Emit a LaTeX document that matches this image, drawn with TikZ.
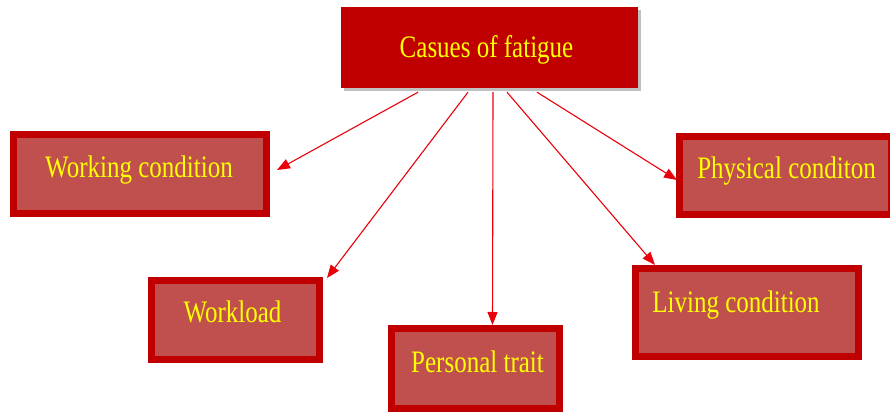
\documentclass[tikz,border=0pt]{standalone}
\usepackage{fontspec}
\setmainfont{Liberation Serif}
\usetikzlibrary{arrows.meta,shadows,calc}
\definecolor{darkred}{HTML}{C00000}
\definecolor{boxfill}{HTML}{C0504D}
\definecolor{arrowred}{HTML}{E8000B}
\definecolor{txtyellow}{HTML}{FFFF00}
\tikzset{
  shade box/.style={drop shadow={shadow xshift=3pt,shadow yshift=-3pt,fill=black!45,opacity=.55}},
  topbox/.style={rectangle,fill=darkred,inner sep=0pt,shade box},
  causebox/.style={rectangle,draw=darkred,line width=7pt,fill=boxfill,inner sep=0pt,shade box},
  lbl/.style={anchor=base,text=txtyellow,inner sep=0pt,font=\fontsize{25}{28}\selectfont},
  conn/.style={draw=arrowred,line width=1.1pt,-{Triangle[length=13pt,width=10pt]}}
}
\newcommand{\stretchtxt}[1]{\scalebox{1}[1.25]{#1}}
\begin{document}
\begin{tikzpicture}[x=1pt,y=-1pt]
\useasboundingbox (0,0) rectangle (890,414);
% boxes
\node[topbox,minimum width=297pt,minimum height=81pt] (top) at (489,47.5) {};
\node[causebox,minimum width=253pt,minimum height=79pt] (work) at (140,174) {};
\node[causebox,minimum width=212pt,minimum height=78pt] (phys) at (785.5,175.5) {};
\node[causebox,minimum width=168pt,minimum height=79pt] (load) at (235.5,320) {};
\node[causebox,minimum width=168pt,minimum height=80pt] (pers) at (475.5,368.5) {};
\node[causebox,minimum width=223pt,minimum height=88pt] (live) at (747,312.5) {};
% labels
\node[lbl] (toptxt) at (486.5,58) {\stretchtxt{Casues of fatigue}};
\node[lbl] (worktxt) at (139,177) {\stretchtxt{Working condition}};
\node[lbl] (phystxt) at (786.5,178) {\stretchtxt{Physical conditon}};
\node[lbl] (loadtxt) at (232.5,322) {\stretchtxt{Workload}};
\node[lbl] (perstxt) at (477.5,372) {\stretchtxt{Personal trait}};
\node[lbl] (livetxt) at (736,312) {\stretchtxt{Living condition}};
% connector start points
\coordinate (s1) at ($(top.south)+(-71,4)$);
\coordinate (s2) at ($(top.south)+(-21,4)$);
\coordinate (s3) at ($(top.south)+(4,4)$);
\coordinate (s4) at ($(top.south)+(18,4)$);
\coordinate (s5) at ($(top.south)+(48,4)$);
% connector end points
\coordinate (e1) at ($(work.east)+(7,-4)$);
\coordinate (e2) at ($(load.north east)+(4,1)$);
\coordinate (e3) at ($(pers.north)+(17,0)$);
\coordinate (e4) at ($(live.north west)+(23,0)$);
\coordinate (e5) at ($(phys.west)+(1,4.5)$);
\draw[conn] (s1) -- (e1);
\draw[conn] (s2) -- (e2);
\draw[conn] (s3) -- (e3);
\draw[conn] (s4) -- (e4);
\draw[conn] (s5) -- (e5);
\end{tikzpicture}
\end{document}
